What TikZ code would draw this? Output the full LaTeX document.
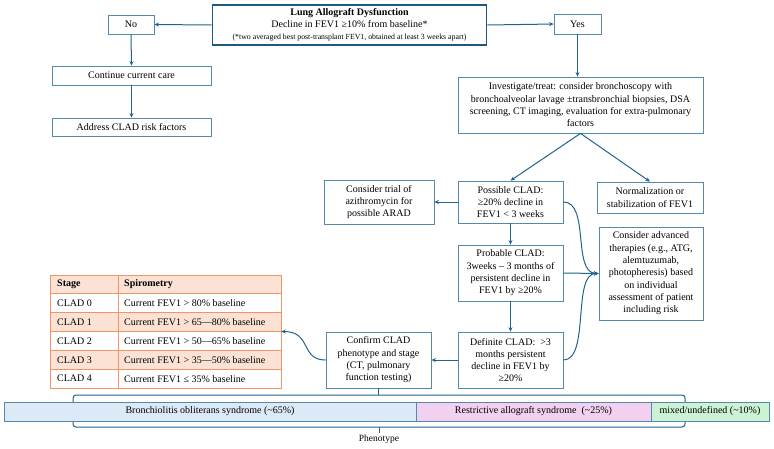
\documentclass[tikz,border=0pt]{standalone}
\usepackage{fontspec}
\setmainfont{Liberation Serif}
\usetikzlibrary{arrows.meta}
\definecolor{boxc}{RGB}{82,138,172}
\definecolor{arrc}{RGB}{32,100,140}
\definecolor{topc}{RGB}{28,88,128}
\definecolor{tabline}{RGB}{240,150,100}
\definecolor{tabfill}{RGB}{252,226,212}
\definecolor{bosfill}{RGB}{220,233,247}
\definecolor{rasfill}{RGB}{242,208,240}
\definecolor{mixfill}{RGB}{204,242,212}
\tikzset{
  box/.style={draw=boxc, line width=0.8pt, fill=white, align=center, inner sep=1pt,
    font=\fontsize{10}{12.3}\selectfont},
  conn/.style={draw=arrc, line width=1pt, -{Stealth[length=4.5pt,width=4pt]}},
  bar/.style={draw=boxc, line width=0.8pt, inner sep=0pt, minimum height=19pt,
    font=\fontsize{10}{12}\selectfont},
  tcell/.style={anchor=west, inner sep=0pt, font=\fontsize{10}{12}\selectfont},
}
\begin{document}
\begin{tikzpicture}[x=1pt,y=-1pt]
\useasboundingbox (0,0) rectangle (774,448);
\fill[white] (0,0) rectangle (774,448);

% top
\node[box, draw=topc, line width=1.8pt, minimum width=274pt, minimum height=40pt] (top) at (349.5,25)
  {\textbf{Lung Allograft Dysfunction}\\ Decline in FEV1 ≥10\% from baseline*\\
   {\fontsize{7.8}{10}\selectfont (*two averaged best post-transplant FEV1, obtained at least 3 weeks apart)}};

\node[box, minimum width=46pt, minimum height=19pt] (no) at (131,24.5) {No};
\node[box, minimum width=159pt, minimum height=19pt] (cont) at (131.5,75.5) {Continue current care};
\node[box, minimum width=159pt, minimum height=18pt] (addr) at (131.5,127) {Address CLAD risk factors};
\node[box, minimum width=47pt, minimum height=20pt] (yes) at (577.5,24) {Yes};
\node[box, minimum width=245pt, minimum height=56pt] (inv) at (580.5,105)
  {Investigate/treat: consider bronchoscopy with\\ bronchoalveolar lavage ±transbronchial biopsies, DSA\\
   screening, CT imaging, evaluation for extra-pulmonary\\ factors};
\node[box, minimum width=105pt, minimum height=42pt] (poss) at (510.5,202)
  {Possible CLAD:\\ ≥20\% decline in\\ FEV1 < 3 weeks};
\node[box, minimum width=106pt, minimum height=31pt] (norm) at (650,197.5)
  {Normalization or\\ stabilization of FEV1};
\node[box, minimum width=110pt, minimum height=44pt] (azi) at (379,202)
  {Consider trial of\\ azithromycin for\\ possible ARAD};
\node[box, minimum width=104pt, minimum height=93pt] (adv) at (651,273.5)
  {Consider advanced\\ therapies (e.g., ATG,\\ alemtuzumab,\\ photopheresis) based\\ on individual\\ assessment of patient\\ including risk};
\node[box, minimum width=105pt, minimum height=56pt] (prob) at (510.5,273)
  {Probable CLAD:\\ 3weeks – 3 months of\\ persistent decline in\\ FEV1 by ≥20\%};
\node[box, minimum width=105pt, minimum height=56pt] (def) at (510.5,360)
  {Definite CLAD:\ \ >3\\ months persistent\\ decline in FEV1 by\\ ≥20\%};
\node[box, minimum width=105pt, minimum height=56pt] (conf) at (378.5,360)
  {Confirm CLAD\\ phenotype and stage\\ (CT, pulmonary\\ function testing)};

% table
\node[minimum width=231pt, minimum height=113pt, inner sep=0pt] (tbl) at (165.5,331.5) {};
\fill[tabfill] (50,275) rectangle (281,293.8);
\fill[tabfill] (50,312.7) rectangle (281,331.5);
\fill[tabfill] (50,350.3) rectangle (281,369.2);
\draw[tabline, line width=1pt] (50,275) rectangle (281,388);
\foreach \yy in {293.8,312.7,331.5,350.3,369.2} \draw[tabline, line width=1pt] (50,\yy) -- (281,\yy);
\draw[tabline, line width=1pt] (118,275) -- (118,388);
\node[tcell] (h1) at (57,284.4) {\textbf{Stage}};
\node[tcell] (h2) at (124,284.4) {\textbf{Spirometry}};
\node[tcell] (s0) at (57,303.2) {CLAD 0};
\node[tcell] (v0) at (124,303.2) {Current FEV1 > 80\% baseline};
\node[tcell] (s1) at (57,322.1) {CLAD 1};
\node[tcell] (v1) at (124,322.1) {Current FEV1 > 65—80\% baseline};
\node[tcell] (s2) at (57,340.9) {CLAD 2};
\node[tcell] (v2) at (124,340.9) {Current FEV1 > 50—65\% baseline};
\node[tcell] (s3) at (57,359.8) {CLAD 3};
\node[tcell] (v3) at (124,359.8) {Current FEV1 > 35—50\% baseline};
\node[tcell] (s4) at (57,378.6) {CLAD 4};
\node[tcell] (v4) at (124,378.6) {Current FEV1 ≤ 35\% baseline};

% bracket and bar
\draw[arrc, line width=1pt, rounded corners=3pt] (73,395) rectangle (685,427);
\node[bar, fill=bosfill, minimum width=412pt] (bos) at (210,411.5) {Bronchiolitis obliterans syndrome (\textasciitilde65\%)};
\node[bar, fill=rasfill, minimum width=235pt] (ras) at (533.5,411.5) {Restrictive allograft syndrome\ \ (\textasciitilde25\%)};
\node[bar, fill=mixfill, minimum width=118pt] (mix) at (710,411.5) {mixed/undefined (\textasciitilde10\%)};
\node[inner sep=1pt, font=\fontsize{9.5}{11}\selectfont] (phen) at (379,439) {Phenotype};
\coordinate (brtop) at (378.5,395);
\coordinate (brbot) at (379,427);
\draw[arrc, line width=1pt] (conf.south) -- (brtop);
\draw[arrc, line width=1pt] (brbot) -- (phen.north);

% connectors
\draw[conn] (top.west) -- (no.east);
\draw[conn] (top.east) -- (yes.west);
\draw[conn] (no.south) -- (cont.north);
\draw[conn] (cont.south) -- (addr.north);
\draw[conn] (yes.south) -- (inv.north -| yes.south);
\draw[conn] (inv.south) -- (poss.north);
\draw[conn] (inv.south) -- (norm.north);
\draw[conn] (poss.west) -- (azi.east);
\draw[conn] (poss.south) -- (prob.north);
\draw[conn] (prob.south) -- (def.north);
\draw[conn] (def.west) -- (conf.east);
\draw[conn] (prob.east) -- (adv.west);
\draw[conn] (poss.east) .. controls (590,202) and (572,273) .. (adv.west);
\draw[conn] (def.east) .. controls (590,360) and (572,273) .. (adv.west);
\draw[conn] (conf.west) .. controls (300,360) and (312,331.5) .. (tbl.east);
\end{tikzpicture}
\end{document}
